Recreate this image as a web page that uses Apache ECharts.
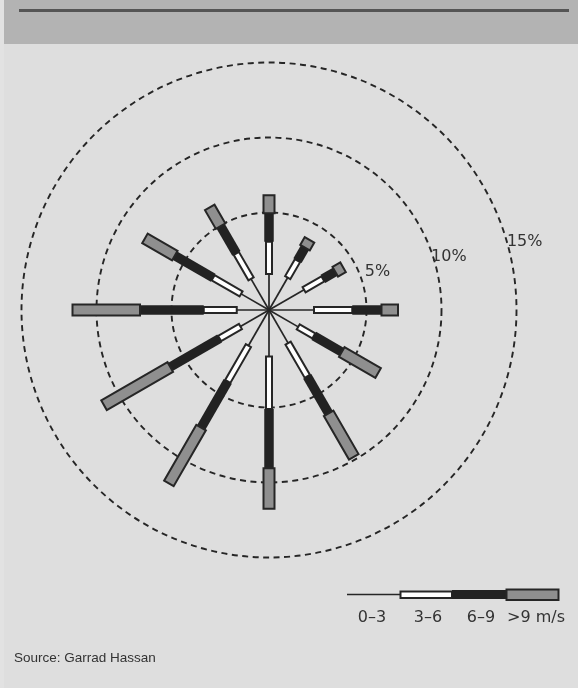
<!DOCTYPE html>
<html><head><meta charset="utf-8">
<script src="https://cdn.jsdelivr.net/npm/echarts@6/dist/echarts.min.js"></script>
<style>html,body{margin:0;padding:0;background:#dedede;}#c{width:578px;height:688px;}</style>
</head><body><div id="c"></div>
<script>
// Wind directions (degrees clockwise from north)
const directions = [0, 30, 60, 90, 120, 150, 180, 210, 240, 270, 300, 330];
// Frequency (%) per speed band, per direction
const speed0to3 = [0.9, 1.0, 1.2, 1.5, 0.75, 1.05, 1.6, 1.25, 0.7, 0.65, 0.65, 0.9];
const speed3to6 = [2.15, 1.3, 1.45, 2.55, 1.2, 2.55, 3.5, 2.75, 1.6, 2.2, 2.15, 1.95];
const speed6to9 = [1.9, 1.0, 0.95, 1.95, 2.15, 2.85, 3.95, 3.55, 3.8, 4.25, 2.95, 2.1];
const speedOver9 = [1.2, 0.6, 0.6, 1.1, 2.8, 3.35, 2.7, 4.3, 5.1, 4.5, 2.3, 1.45];
// Rings
const ringValues = [5, 10, 15];
const ringLabels = ['5%', '10%', '15%'];
// Legend
const legendLabels = ['0–3', '3–6', '6–9', '>9 m/s'];
const sourceText = 'Source: Garrad Hassan';

const RMIN = -1.5, RMAX = 15.2;
const FONT = '"DejaVu Sans", sans-serif';
const FONT2 = '"Liberation Sans", Arial, sans-serif';
const INK = '#262626';

function seg(pA, pB, w) {
  const dx = pB[0] - pA[0], dy = pB[1] - pA[1];
  const L = Math.hypot(dx, dy) || 1;
  const nx = -dy / L * w / 2, ny = dx / L * w / 2;
  return [[pA[0] + nx, pA[1] + ny], [pB[0] + nx, pB[1] + ny], [pB[0] - nx, pB[1] - ny], [pA[0] - nx, pA[1] - ny]];
}

const roseData = directions.map((d, i) => {
  const t = speed0to3[i] + speed3to6[i] + speed6to9[i] + speedOver9[i];
  return [t, d, speed0to3[i], speed3to6[i], speed6to9[i], speedOver9[i]];
});
const ringData = ringValues.map((v, i) => [v, 0, i]);
const labelAngles = [67, 72, 74];
const labelOffsets = [6, -2, 0];

const chart = echarts.init(document.getElementById('c'), null, {renderer: 'canvas'});
chart.setOption({
  animation: false,
  backgroundColor: '#dedede',
  polar: {center: [269, 310], radius: 250.5},
  angleAxis: {type: 'value', min: 0, max: 360, startAngle: 90, clockwise: true, show: false},
  radiusAxis: {type: 'value', min: RMIN, max: RMAX, show: false},
  graphic: [
    {type: 'rect', shape: {x: 0, y: 0, width: 4, height: 688}, style: {fill: '#e2e2e2'}, z: -5},
    {type: 'rect', shape: {x: 4, y: 0, width: 574, height: 44}, style: {fill: '#b3b3b3'}, z: -5},
    {type: 'rect', shape: {x: 19, y: 9, width: 550, height: 3}, style: {fill: '#555555'}, z: -4},
    // legend
    {type: 'line', shape: {x1: 347, y1: 594.5, x2: 400, y2: 594.5}, style: {stroke: INK, lineWidth: 1.6}},
    {type: 'rect', shape: {x: 400.5, y: 591.5, width: 51.5, height: 6.5}, style: {fill: '#ffffff', stroke: INK, lineWidth: 2}},
    {type: 'rect', shape: {x: 452, y: 590, width: 54, height: 9}, style: {fill: '#222222'}},
    {type: 'rect', shape: {x: 506.5, y: 589.5, width: 52, height: 10.5}, style: {fill: '#8f8f8f', stroke: INK, lineWidth: 2}},
    {type: 'text', x: 372, y: 618, style: {text: legendLabels[0], font: '16px ' + FONT, fill: '#333', align: 'center', verticalAlign: 'middle'}},
    {type: 'text', x: 428, y: 618, style: {text: legendLabels[1], font: '16px ' + FONT, fill: '#333', align: 'center', verticalAlign: 'middle'}},
    {type: 'text', x: 481, y: 618, style: {text: legendLabels[2], font: '16px ' + FONT, fill: '#333', align: 'center', verticalAlign: 'middle'}},
    {type: 'text', x: 507, y: 618, style: {text: legendLabels[3], font: '16px ' + FONT, fill: '#333', align: 'left', verticalAlign: 'middle'}},
    {type: 'text', x: 14, y: 658, style: {text: sourceText, font: '13.5px ' + FONT2, fill: '#333', align: 'left', verticalAlign: 'middle'}}
  ],
  series: [
    {
      type: 'custom', coordinateSystem: 'polar', silent: true,
      encode: {radius: 0, angle: 1},
      data: ringData,
      renderItem: function (params, api) {
        const v = api.value(0), idx = api.value(2);
        const c = api.coord([RMIN, 0]);
        const p = api.coord([v, 0]);
        const r = Math.hypot(p[0] - c[0], p[1] - c[1]);
        const lp = api.coord([v, labelAngles[idx]]);
        return {type: 'group', children: [
          {type: 'circle', shape: {cx: c[0], cy: c[1], r: r}, style: {fill: null, stroke: INK, lineWidth: 1.9, lineDash: [6, 4.5]}},
          {type: 'text', x: lp[0] + labelOffsets[idx], y: lp[1], style: {text: ringLabels[idx], font: '16px ' + FONT, fill: '#333', align: 'left', verticalAlign: 'middle'}}
        ]};
      }
    },
    {
      type: 'custom', coordinateSystem: 'polar', silent: true,
      encode: {radius: 0, angle: 1},
      data: roseData,
      z: 5,
      renderItem: function (params, api) {
        const ang = api.value(1);
        const a = api.value(2), b = api.value(3), cc = api.value(4), d = api.value(5);
        const c0 = api.coord([RMIN, ang]);
        const p1 = api.coord([a, ang]);
        const p2 = api.coord([a + b, ang]);
        const p3 = api.coord([a + b + cc, ang]);
        const p4 = api.coord([a + b + cc + d, ang]);
        return {type: 'group', children: [
          {type: 'line', shape: {x1: c0[0], y1: c0[1], x2: p1[0], y2: p1[1]}, style: {stroke: INK, lineWidth: 1.7}},
          {type: 'polygon', shape: {points: seg(p1, p2, 6)}, style: {fill: '#ffffff', stroke: INK, lineWidth: 2}},
          {type: 'polygon', shape: {points: seg(p2, p3, 9.5)}, style: {fill: '#222222'}},
          {type: 'polygon', shape: {points: seg(p3, p4, 11)}, style: {fill: '#8f8f8f', stroke: INK, lineWidth: 2}}
        ]};
      }
    }
  ]
});
</script></body></html>
